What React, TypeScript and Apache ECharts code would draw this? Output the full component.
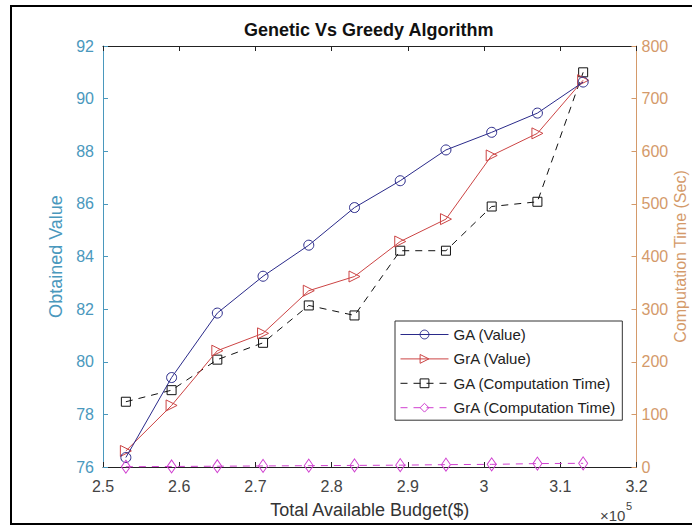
import React, { useEffect, useRef } from "react";
import * as echarts from "echarts";

const budget = [2.53, 2.59, 2.65, 2.71, 2.77, 2.83, 2.89, 2.95, 3.01, 3.07, 3.13];
const gaValue = [76.36, 79.4, 81.85, 83.25, 84.43, 85.86, 86.88, 88.05, 88.72, 89.45, 90.63];
const grAValue = [76.61, 78.34, 80.42, 81.08, 82.7, 83.24, 84.57, 85.42, 87.84, 88.68, 90.7];
const gaTime = [124, 146, 204, 236, 307, 288, 411, 411, 495, 504, 750];
const grATime = [0.5, 1, 1.5, 2, 2.5, 3, 3.5, 4.5, 5, 6.5, 7];
const seriesNames = ["GA (Value)", "GrA (Value)", "GA (Computation Time)", "GrA (Computation Time)"];

const LEFT_COLOR = "#4a98bd";
const RIGHT_COLOR = "#d49a6a";
const NAVY = "#2a2a8a";
const RED = "#cc4444";
const BLACK = "#111111";
const MAGENTA = "#d040d0";
const FONT = "'Liberation Sans', Arial, Helvetica, sans-serif";

const pairs = (ys: number[]) => budget.map((x, i) => [x, ys[i]]);

export default function App() {
  const ref = useRef<HTMLDivElement>(null);
  useEffect(() => {
    if (!ref.current) return;
    const chart = echarts.init(ref.current, undefined, { renderer: "svg" });
    const hollow = (c: string) => ({ color: "rgba(255,255,255,0)", borderColor: c, borderWidth: 1 });
    const frame = { stroke: "#000", lineWidth: 2 };
    chart.setOption({
      animation: false,
      backgroundColor: "#ffffff",
      textStyle: { fontFamily: FONT },
      title: {
        text: "Genetic Vs Greedy Algorithm",
        left: 244,
        top: 21,
        padding: 0,
        textStyle: { fontSize: 18, fontWeight: "bold", color: "#111", fontFamily: FONT },
      },
      grid: { left: 103, right: 55.5, top: 46, bottom: 59, containLabel: false, outerBoundsMode: "none" },
      legend: {
        data: seriesNames,
        orient: "vertical",
        left: 395,
        top: 321,
        width: 223,
        padding: [6, 6, 5, 5],
        itemWidth: 48,
        itemHeight: 11,
        itemGap: 9.4,
        borderColor: "#333",
        borderWidth: 1,
        backgroundColor: "#fff",
        lineStyle: { width: 1 },
        itemStyle: { borderWidth: 1 },
        textStyle: { fontSize: 15, color: "#222", fontFamily: FONT },
      },
      xAxis: [
        {
          type: "value",
          min: 2.5,
          max: 3.2,
          interval: 0.1,
          position: "bottom",
          name: "Total Available Budget($)",
          nameLocation: "middle",
          nameGap: 34,
          nameTextStyle: { fontSize: 18, color: "#333", fontFamily: FONT },
          axisLine: { show: true, lineStyle: { color: "#222", width: 1 } },
          axisTick: { show: true, inside: true, length: 5, lineStyle: { color: "#222" } },
          axisLabel: {
            fontSize: 16,
            color: "#444",
            margin: 11,
            fontFamily: FONT,
            formatter: (v: number) => String(Math.round(v * 10) / 10),
          },
          splitLine: { show: false },
        },
        {
          type: "value",
          min: 2.5,
          max: 3.2,
          interval: 0.1,
          position: "top",
          axisLine: { show: true, lineStyle: { color: "#222", width: 1 } },
          axisTick: { show: true, inside: true, length: 5, lineStyle: { color: "#222" } },
          axisLabel: { show: false },
          splitLine: { show: false },
        },
      ],
      yAxis: [
        {
          type: "value",
          min: 76,
          max: 92,
          interval: 2,
          position: "left",
          name: "Obtained Value",
          nameLocation: "middle",
          nameGap: 32,
          nameTextStyle: { fontSize: 18, color: LEFT_COLOR, fontFamily: FONT },
          axisLine: { show: true, lineStyle: { color: LEFT_COLOR, width: 1 } },
          axisTick: { show: true, inside: true, length: 5, lineStyle: { color: LEFT_COLOR } },
          axisLabel: { fontSize: 16, color: LEFT_COLOR, margin: 9, fontFamily: FONT },
          splitLine: { show: false },
        },
        {
          type: "value",
          min: 0,
          max: 800,
          interval: 100,
          position: "right",
          name: "Computation Time (Sec)",
          nameLocation: "middle",
          nameGap: 36,
          nameMoveOverlap: false,
          nameTextStyle: { fontSize: 16, color: RIGHT_COLOR, fontFamily: FONT },
          axisLine: { show: true, lineStyle: { color: RIGHT_COLOR, width: 1 } },
          axisTick: { show: true, inside: true, length: 5, lineStyle: { color: RIGHT_COLOR } },
          axisLabel: { fontSize: 16, color: RIGHT_COLOR, margin: 5, fontFamily: FONT },
          splitLine: { show: false },
        },
      ],
      graphic: [
        { type: "line", shape: { x1: 11, y1: 6, x2: 692, y2: 6 }, style: frame, silent: true },
        { type: "line", shape: { x1: 11, y1: 5, x2: 11, y2: 525 }, style: frame, silent: true },
        { type: "line", shape: { x1: 11, y1: 524, x2: 692, y2: 524 }, style: frame, silent: true },
        {
          type: "text",
          x: 600,
          y: 515,
          style: { text: "×10", fontSize: 15, fill: "#444", fontFamily: FONT, textVerticalAlign: "middle" },
        },
        {
          type: "text",
          x: 626,
          y: 506,
          style: { text: "5", fontSize: 11, fill: "#444", fontFamily: FONT, textVerticalAlign: "middle" },
        },
      ],
      series: [
        {
          name: seriesNames[0],
          type: "line",
          xAxisIndex: 0,
          yAxisIndex: 0,
          data: pairs(gaValue),
          symbol: "circle",
          symbolSize: 10,
          clip: false,
          lineStyle: { color: NAVY, width: 1 },
          itemStyle: hollow(NAVY),
          z: 4,
        },
        {
          name: seriesNames[1],
          type: "line",
          xAxisIndex: 0,
          yAxisIndex: 0,
          data: pairs(grAValue),
          symbol: "triangle",
          symbolRotate: -90,
          symbolSize: 11,
          clip: false,
          lineStyle: { color: RED, width: 1 },
          itemStyle: hollow(RED),
          z: 3,
        },
        {
          name: seriesNames[2],
          type: "line",
          xAxisIndex: 0,
          yAxisIndex: 1,
          data: pairs(gaTime),
          symbol: "rect",
          symbolSize: 9,
          clip: false,
          lineStyle: { color: BLACK, width: 1, type: [7, 6] },
          itemStyle: hollow(BLACK),
          z: 2,
        },
        {
          name: seriesNames[3],
          type: "line",
          xAxisIndex: 0,
          yAxisIndex: 1,
          data: pairs(grATime),
          symbol: "diamond",
          symbolSize: [9, 13],
          clip: false,
          lineStyle: { color: MAGENTA, width: 1, type: [7, 6] },
          itemStyle: hollow(MAGENTA),
          z: 5,
        },
      ],
    });
    return () => chart.dispose();
  }, []);
  return (
    <div
      ref={ref}
      style={{
        position: "fixed",
        left: 0,
        top: 0,
        width: 692,
        height: 526,
        overflow: "hidden",
        background: "#fff",
      }}
    />
  );
}
